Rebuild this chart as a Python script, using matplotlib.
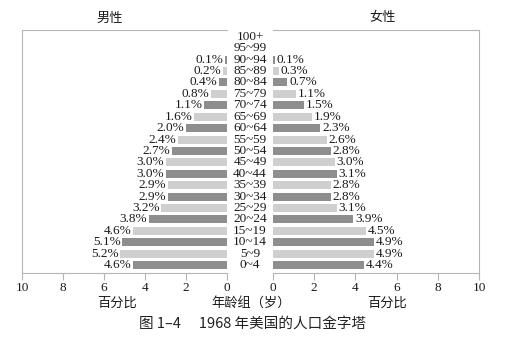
import numpy as np
import matplotlib
matplotlib.use('Agg')
import matplotlib.pyplot as plt

plt.rcParams['font.family'] = ['Liberation Serif', 'Noto Sans CJK SC', 'DejaVu Sans']

# 年龄组（由下到上）
ages = ['0~4', '5~9', '10~14', '15~19', '20~24', '25~29', '30~34', '35~39',
        '40~44', '45~49', '50~54', '55~59', '60~64', '65~69', '70~74',
        '75~79', '80~84', '85~89', '90~94', '95~99', '100+']
male = [4.6, 5.2, 5.1, 4.6, 3.8, 3.2, 2.9, 2.9, 3.0, 3.0, 2.7, 2.4, 2.0,
        1.6, 1.1, 0.8, 0.4, 0.2, 0.1, 0, 0]
female = [4.4, 4.9, 4.9, 4.5, 3.9, 3.1, 2.8, 2.8, 3.1, 3.0, 2.8, 2.6, 2.3,
          1.9, 1.5, 1.1, 0.7, 0.3, 0.1, 0, 0]
xticks = [0, 2, 4, 6, 8, 10]

dark, light = '#8e8e8e', '#cfcfcf'
colors = [dark if i % 2 == 0 else light for i in range(len(ages))]
y = np.arange(len(ages))
spine_c = '#b5b5b5'
txt_c = '#1a1a1a'

fig = plt.figure(figsize=(5.1, 3.51), dpi=100)
axl = fig.add_axes([22 / 510, 1 - 273 / 351, 205 / 510, 243 / 351])
axr = fig.add_axes([273 / 510, 1 - 273 / 351, 206 / 510, 243 / 351])

for ax, vals, side in [(axl, male, 'l'), (axr, female, 'r')]:
    ax.barh(y, vals, height=0.7, color=colors)
    ax.set_xlim(0, 10)
    ax.set_ylim(-0.7, 20.6)
    ax.set_yticks([])
    ax.set_xticks(xticks)
    ax.set_xticklabels([str(t) for t in xticks], fontsize=9.5, color=txt_c)
    ax.tick_params(axis='x', length=5, color=spine_c, pad=1.5)
    for s in ax.spines.values():
        s.set_color(spine_c)
        s.set_linewidth(0.8)
    for i, v in enumerate(vals):
        if v > 0:
            ax.text(v + 0.08, i, f'{v:.1f}%', va='center',
                    ha='right' if side == 'l' else 'left',
                    fontsize=9.5, color=txt_c)
    if side == 'l':
        ax.invert_xaxis()
        ax.spines['right'].set_visible(False)
    else:
        ax.spines['left'].set_visible(False)

fig.canvas.draw()
for i, a in enumerate(ages):
    fig.text(250 / 510, axl.transData.transform((0, i))[1] / fig.bbox.height,
             a, ha='center', va='center', fontsize=9.5, color=txt_c)

cjk = dict(ha='center', va='center', fontsize=9.5, color=txt_c,
           family=['Noto Sans CJK SC', 'DejaVu Sans'])
fig.text(110 / 510, 1 - 18 / 351, '男性', **cjk)
fig.text(383 / 510, 1 - 18 / 351, '女性', **cjk)
fig.text(117 / 510, 1 - 303 / 351, '百分比', **cjk)
fig.text(387 / 510, 1 - 303 / 351, '百分比', **cjk)
fig.text(251 / 510, 1 - 303 / 351, '年龄组（岁）', **cjk)
fig.text(253 / 510, 1 - 324 / 351, '图 1–4　 1968 年美国的人口金字塔',
         ha='center', va='center', fontsize=10.5, color='#222222',
         family=['Noto Sans CJK SC', 'DejaVu Sans'])

fig.savefig('out.png', dpi=100)
